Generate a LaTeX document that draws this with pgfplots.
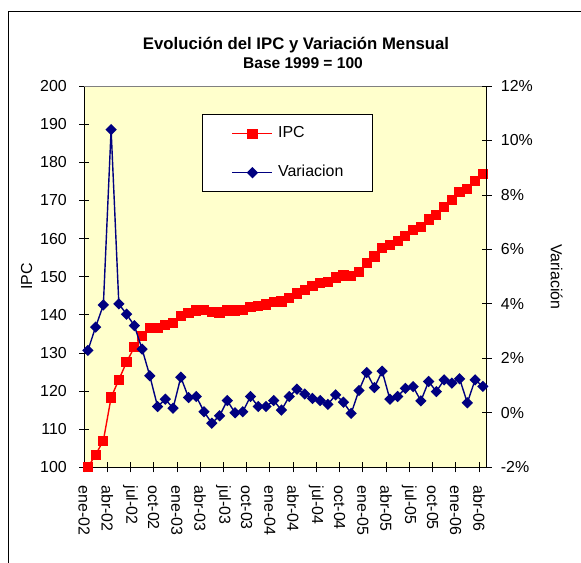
\documentclass[border=0pt]{standalone}
\usepackage{fontspec}
\setmainfont{Liberation Sans}
\usepackage{pgfplots}
\usepackage{pgfplotstable}
\pgfplotsset{compat=1.18}
\definecolor{plotbg}{HTML}{FFFFCC}
\definecolor{ipcred}{HTML}{FF0000}
\definecolor{varblue}{HTML}{000080}

\pgfplotstableread{
i ipc var
0 100.0 2.29
1 103.3 3.15
2 107.0 3.96
3 118.3 10.40
4 123.0 4.00
5 127.6 3.62
6 131.5 3.20
7 134.5 2.34
8 136.5 1.36
9 136.6 0.23
10 137.3 0.50
11 137.8 0.17
12 139.6 1.31
13 140.4 0.56
14 141.1 0.60
15 141.2 0.04
16 140.8 -0.38
17 140.6 -0.11
18 141.1 0.45
19 141.1 0.00
20 141.2 0.04
21 142.0 0.60
22 142.3 0.23
23 142.7 0.23
24 143.3 0.45
25 143.5 0.10
26 144.4 0.60
27 145.6 0.87
28 146.5 0.69
29 147.5 0.53
30 148.3 0.45
31 148.7 0.31
32 149.8 0.66
33 150.3 0.39
34 150.2 -0.02
35 151.3 0.82
36 153.6 1.48
37 155.3 0.93
38 157.6 1.53
39 158.3 0.50
40 159.4 0.60
41 160.7 0.90
42 162.2 0.96
43 163.0 0.44
44 165.0 1.15
45 166.2 0.78
46 168.3 1.21
47 170.0 1.09
48 172.1 1.25
49 173.0 0.37
50 175.0 1.21
51 177.0 0.97
}\datatable

\pgfplotsset{
  base/.style={
    scale only axis, width=402.7bp, height=381.3bp,
    at={(84bp,-467.3bp)}, anchor=south west,
    xmin=-0.5, xmax=51.5,
    tick align=center, major tick length=10bp,
    every tick/.style={black, line width=0.8bp},
    axis line style={black, line width=1bp, -},
    tick label style={font=\fontsize{16}{19}\selectfont},
    /pgf/number format/assume math mode=true,
    clip=false,
  },
  ipcstyle/.style={color=ipcred, line width=1.4bp, mark=square*, mark size=4.4bp, mark options={solid, fill=ipcred, draw=ipcred}},
  varstyle/.style={color=varblue, line width=1.4bp, mark=square*, mark size=3.3bp, mark options={solid, rotate=45, fill=varblue, draw=varblue}},
}

\begin{document}
\begin{tikzpicture}
\path[use as bounding box] (0bp,0bp) rectangle (581bp,-563bp);
\draw[line width=1bp] (8.3bp,-563bp) -- (8.3bp,-11bp) -- (581bp,-11bp);
\node[font=\fontsize{16.8}{19}\selectfont\bfseries] at (296bp,-45bp) {Evolución del IPC y Variación Mensual};
\node[font=\fontsize{15.6}{18}\selectfont\bfseries] at (303bp,-62.7bp) {Base 1999 = 100};

\begin{axis}[base,
  axis x line*=bottom, axis y line*=left,
  axis background/.style={fill=plotbg},
  ymin=100, ymax=200, ytick={100,110,120,130,140,150,160,170,180,190,200},
  xtick={-0.5,2.5,5.5,8.5,11.5,14.5,17.5,20.5,23.5,26.5,29.5,32.5,35.5,38.5,41.5,44.5,47.5,50.5},
  xticklabels={ene-02,abr-02,jul-02,oct-02,ene-03,abr-03,jul-03,oct-03,ene-04,abr-04,jul-04,oct-04,ene-05,abr-05,jul-05,oct-05,ene-06,abr-06},
  x tick label style={rotate=-90, anchor=west, inner sep=0pt, xshift=13bp},
  y tick label style={inner sep=0pt, xshift=-12bp},
  ylabel={IPC},
  every axis y label/.style={at={(axis description cs:-0.1423,0.5)}, rotate=90, anchor=center, font=\fontsize{16}{19}\selectfont},
]
\draw[gray, line width=1bp] (rel axis cs:0,1) -- (rel axis cs:1,1);
\addplot[ipcstyle] table[x=i, y=ipc] {\datatable};
\end{axis}

\begin{axis}[base,
  axis x line=none, axis y line*=right,
  ymin=-2, ymax=12, ytick={-2,0,2,4,6,8,10,12},
  yticklabels={-2\%,0\%,2\%,4\%,6\%,8\%,10\%,12\%},
  y tick label style={inner sep=0pt, xshift=9bp},
  ylabel={Variación},
  every axis y label/.style={at={(axis description cs:1.1738,0.5)}, rotate=-90, anchor=center, font=\fontsize{16}{19}\selectfont},
  legend style={at={(0.2938,0.9258)}, anchor=north west, draw=black, fill=white, line width=0.8bp,
    inner xsep=29bp, inner ysep=12bp, row sep=25bp, font=\fontsize{16}{19}\selectfont,
    nodes={inner sep=0pt, text height=11bp, text depth=3bp},
    /tikz/every odd column/.style={column sep=5bp}},
  legend cell align=left,
  legend image code/.code={\draw[mark repeat=2, mark phase=2, #1] plot coordinates {(0bp,0bp) (20bp,0bp) (40bp,0bp)};},
]
\addlegendimage{ipcstyle}
\addlegendentry{IPC}
\addplot[varstyle] table[x=i, y=var] {\datatable};
\addlegendentry{Variacion}
\end{axis}
\end{tikzpicture}
\end{document}
